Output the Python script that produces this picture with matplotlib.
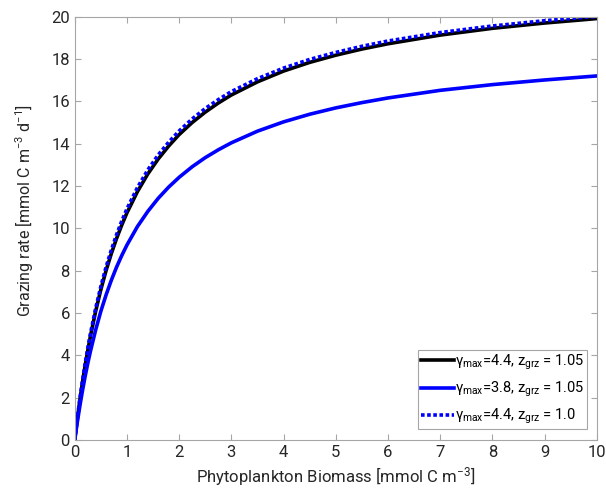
import matplotlib.pyplot as plt

plt.rcParams['font.family'] = ['Roboto', 'DejaVu Sans']
plt.rcParams['mathtext.fontset'] = 'custom'
plt.rcParams['mathtext.rm'] = 'Roboto'
plt.rcParams['mathtext.it'] = 'Roboto'
plt.rcParams['mathtext.bf'] = 'Roboto:bold'

#
# Grazing curves (biomass in mmol C m^-3, rate in mmol C m^-3 d^-1)
#

biomass = [0, 0.025, 0.05, 0.1, 0.15, 0.2, 0.25, 0.3, 0.4, 0.5, 0.6, 0.7, 0.8, 0.9, 1.0,
           1.2, 1.4, 1.6, 1.8, 2.0, 2.25, 2.5, 2.75, 3.0, 3.5, 4, 4.5, 5, 5.5, 6, 7, 8, 9, 10]

graz_44_105 = [0, 0.51, 1.00, 1.91, 2.75, 3.52, 4.23, 4.89, 6.07, 7.10, 8.00, 8.80, 9.51, 10.15, 10.73,
               11.73, 12.57, 13.28, 13.89, 14.43, 15.00, 15.49, 15.92, 16.30, 16.92, 17.43, 17.84,
               18.18, 18.47, 18.72, 19.13, 19.45, 19.70, 19.91]
graz_38_105 = [0, 0.44, 0.85, 1.63, 2.35, 3.01, 3.62, 4.18, 5.19, 6.08, 6.85, 7.54, 8.16, 8.71, 9.21,
               10.08, 10.80, 11.42, 11.95, 12.41, 12.91, 13.34, 13.71, 14.04, 14.59, 15.03, 15.39,
               15.69, 15.94, 16.16, 16.52, 16.79, 17.01, 17.20]
graz_44_100 = [0, 0.53, 1.03, 1.97, 2.83, 3.61, 4.34, 5.01, 6.21, 7.25, 8.17, 8.97, 9.69, 10.34, 10.92,
               11.92, 12.76, 13.47, 14.07, 14.60, 15.17, 15.66, 16.08, 16.46, 17.07, 17.57, 17.98,
               18.31, 18.60, 18.85, 19.25, 19.56, 19.81, 20.01]

labels = [r'$\gamma_{max}$=4.4, z$_{grz}$ = 1.05',
          r'$\gamma_{max}$=3.8, z$_{grz}$ = 1.05',
          r'$\gamma_{max}$=4.4, z$_{grz}$ = 1.0']

axis_grey = "#a6a6a6"
text_grey = "#262626"

fig = plt.figure(figsize=(6.06, 4.95), dpi=100)
ax = fig.add_axes([0.1233, 0.1111, 0.8614, 0.8552])

ax.plot(biomass, graz_44_105, color="black", lw=2.6, label=labels[0])
ax.plot(biomass, graz_38_105, color="#0000ff", lw=2.6, label=labels[1])
ax.plot(biomass, graz_44_100, color="#0000ff", lw=2.6, ls=(0, (1, 0.7)), label=labels[2])

ax.set_xlim(0, 10)
ax.set_ylim(0, 20)
ax.set_xticks(range(0, 11))
ax.set_yticks(range(0, 21, 2))

ax.tick_params(direction="in", top=True, right=True, length=4, width=0.8,
               color=axis_grey, labelcolor=text_grey, labelsize=12)
[ax.spines[i].set_color(axis_grey) for i in ax.spines]
[ax.spines[i].set_linewidth(0.8) for i in ax.spines]

ax.set_xlabel(r'Phytoplankton Biomass [mmol C m$^{-3}$]', fontsize=12, color=text_grey)
ax.set_ylabel(r'Grazing rate [mmol C m$^{-3}$ d$^{-1}$]', fontsize=11.5, color=text_grey)
ax.yaxis.set_label_coords(-0.076, 0.541)

leg = ax.legend(loc="lower right", bbox_to_anchor=(0.982, 0.0253), fontsize=10.5,
                frameon=True, fancybox=False, edgecolor=axis_grey, framealpha=1,
                handlelength=2.25, handletextpad=0.1, borderpad=0.2, borderaxespad=0,
                labelspacing=0.55, labelcolor="black")
leg.get_frame().set_linewidth(0.8)

plt.savefig("out.png")
